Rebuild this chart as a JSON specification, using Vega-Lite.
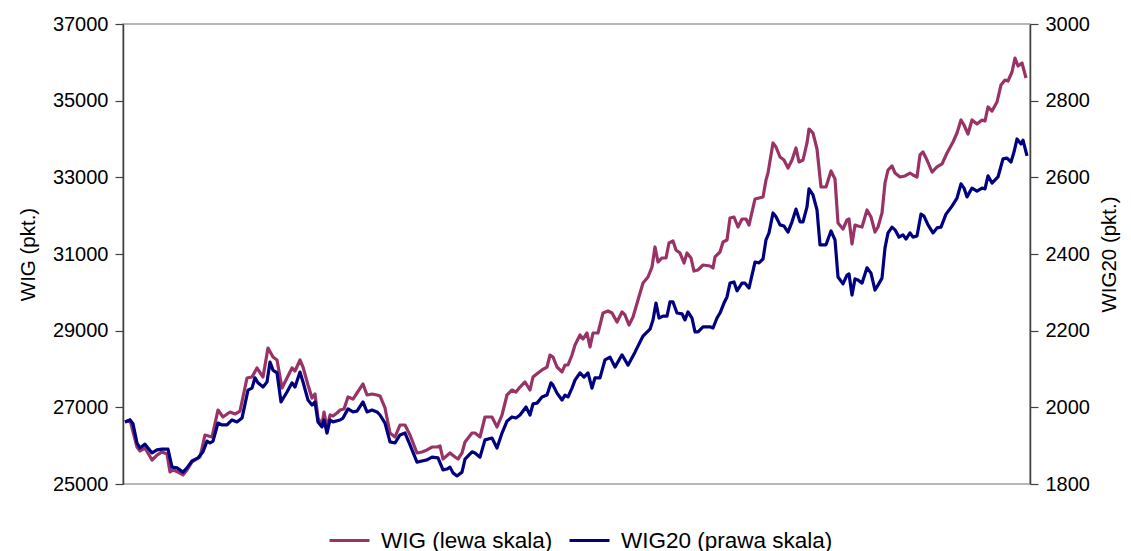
{
  "$schema": "https://vega.github.io/schema/vega-lite/v6.json",
  "width": 907,
  "height": 460,
  "autosize": {"type": "none"},
  "padding": {"left": 123, "top": 24, "right": 101, "bottom": 67},
  "background": "white",
  "config": {
    "view": {"stroke": "#a0a0a0", "strokeWidth": 1.5},
    "font": "Liberation Sans",
    "axis": {
      "labelFont": "Liberation Sans", "titleFont": "Liberation Sans",
      "labelFontSize": 20, "titleFontSize": 20.5, "titleFontWeight": "normal",
      "labelColor": "#000000", "titleColor": "#000000",
      "domainColor": "#404040", "tickColor": "#404040", "domainWidth": 1.5, "tickWidth": 1.2,
      "grid": false, "tickSize": 8, "labelPadding": 7
    },
    "legend": {"labelFont": "Liberation Sans", "labelFontSize": 22.5, "labelColor": "#000000", "labelLimit": 0}
  },
  "datasets": {
    "indeksy": [
      {"s":"WIG","t":2,"v":26617},{"s":"WIG","t":7,"v":26670},{"s":"WIG","t":14,"v":25965},{"s":"WIG","t":17,"v":25861},{"s":"WIG","t":22,"v":25939},{"s":"WIG","t":29,"v":25626},{"s":"WIG","t":34,"v":25756},{"s":"WIG","t":39,"v":25835},{"s":"WIG","t":44,"v":25783},{"s":"WIG","t":47,"v":25313},{"s":"WIG","t":50,"v":25365},{"s":"WIG","t":55,"v":25313},{"s":"WIG","t":60,"v":25235},{"s":"WIG","t":64,"v":25365},{"s":"WIG","t":69,"v":25574},{"s":"WIG","t":77,"v":25704},{"s":"WIG","t":82,"v":26278},{"s":"WIG","t":89,"v":26226},{"s":"WIG","t":95,"v":26930},{"s":"WIG","t":100,"v":26748},{"s":"WIG","t":107,"v":26878},{"s":"WIG","t":112,"v":26826},{"s":"WIG","t":117,"v":26904},{"s":"WIG","t":124,"v":27765},{"s":"WIG","t":129,"v":27791},{"s":"WIG","t":134,"v":28026},{"s":"WIG","t":140,"v":27791},{"s":"WIG","t":145,"v":28548},{"s":"WIG","t":150,"v":28313},{"s":"WIG","t":154,"v":28235},{"s":"WIG","t":159,"v":27504},{"s":"WIG","t":164,"v":27765},{"s":"WIG","t":169,"v":28026},{"s":"WIG","t":172,"v":27948},{"s":"WIG","t":177,"v":28235},{"s":"WIG","t":180,"v":28052},{"s":"WIG","t":185,"v":27583},{"s":"WIG","t":189,"v":27243},{"s":"WIG","t":192,"v":27348},{"s":"WIG","t":195,"v":26722},{"s":"WIG","t":199,"v":26539},{"s":"WIG","t":201,"v":26878},{"s":"WIG","t":204,"v":26461},{"s":"WIG","t":207,"v":26800},{"s":"WIG","t":210,"v":26774},{"s":"WIG","t":214,"v":26852},{"s":"WIG","t":217,"v":26930},{"s":"WIG","t":221,"v":26956},{"s":"WIG","t":225,"v":27270},{"s":"WIG","t":230,"v":27217},{"s":"WIG","t":234,"v":27374},{"s":"WIG","t":240,"v":27609},{"s":"WIG","t":244,"v":27322},{"s":"WIG","t":249,"v":27348},{"s":"WIG","t":254,"v":27322},{"s":"WIG","t":257,"v":27296},{"s":"WIG","t":262,"v":26983},{"s":"WIG","t":267,"v":26330},{"s":"WIG","t":272,"v":26226},{"s":"WIG","t":277,"v":26539},{"s":"WIG","t":282,"v":26539},{"s":"WIG","t":287,"v":26278},{"s":"WIG","t":294,"v":25809},{"s":"WIG","t":299,"v":25835},{"s":"WIG","t":304,"v":25887},{"s":"WIG","t":309,"v":25965},{"s":"WIG","t":314,"v":25965},{"s":"WIG","t":317,"v":25991},{"s":"WIG","t":320,"v":25652},{"s":"WIG","t":327,"v":25809},{"s":"WIG","t":332,"v":25704},{"s":"WIG","t":335,"v":25652},{"s":"WIG","t":339,"v":25809},{"s":"WIG","t":342,"v":26096},{"s":"WIG","t":349,"v":26330},{"s":"WIG","t":352,"v":26330},{"s":"WIG","t":357,"v":26226},{"s":"WIG","t":362,"v":26748},{"s":"WIG","t":369,"v":26748},{"s":"WIG","t":374,"v":26487},{"s":"WIG","t":379,"v":26800},{"s":"WIG","t":384,"v":27322},{"s":"WIG","t":389,"v":27452},{"s":"WIG","t":393,"v":27400},{"s":"WIG","t":397,"v":27530},{"s":"WIG","t":402,"v":27661},{"s":"WIG","t":407,"v":27452},{"s":"WIG","t":410,"v":27791},{"s":"WIG","t":415,"v":27896},{"s":"WIG","t":419,"v":27974},{"s":"WIG","t":424,"v":28052},{"s":"WIG","t":427,"v":28365},{"s":"WIG","t":430,"v":28313},{"s":"WIG","t":434,"v":28052},{"s":"WIG","t":439,"v":27922},{"s":"WIG","t":442,"v":28104},{"s":"WIG","t":445,"v":28104},{"s":"WIG","t":449,"v":28365},{"s":"WIG","t":452,"v":28626},{"s":"WIG","t":457,"v":28887},{"s":"WIG","t":460,"v":28783},{"s":"WIG","t":464,"v":28939},{"s":"WIG","t":467,"v":28574},{"s":"WIG","t":470,"v":28939},{"s":"WIG","t":475,"v":28939},{"s":"WIG","t":480,"v":29461},{"s":"WIG","t":485,"v":29513},{"s":"WIG","t":489,"v":29461},{"s":"WIG","t":494,"v":29226},{"s":"WIG","t":499,"v":29487},{"s":"WIG","t":502,"v":29409},{"s":"WIG","t":506,"v":29148},{"s":"WIG","t":510,"v":29356},{"s":"WIG","t":515,"v":29800},{"s":"WIG","t":520,"v":30243},{"s":"WIG","t":525,"v":30400},{"s":"WIG","t":529,"v":30661},{"s":"WIG","t":532,"v":31183},{"s":"WIG","t":535,"v":30791},{"s":"WIG","t":539,"v":30896},{"s":"WIG","t":543,"v":30896},{"s":"WIG","t":546,"v":31287},{"s":"WIG","t":550,"v":31339},{"s":"WIG","t":553,"v":31104},{"s":"WIG","t":557,"v":31026},{"s":"WIG","t":561,"v":30765},{"s":"WIG","t":564,"v":31026},{"s":"WIG","t":568,"v":30896},{"s":"WIG","t":571,"v":30556},{"s":"WIG","t":575,"v":30583},{"s":"WIG","t":580,"v":30713},{"s":"WIG","t":587,"v":30687},{"s":"WIG","t":590,"v":30635},{"s":"WIG","t":592,"v":30922},{"s":"WIG","t":597,"v":31052},{"s":"WIG","t":600,"v":31313},{"s":"WIG","t":604,"v":31365},{"s":"WIG","t":607,"v":31939},{"s":"WIG","t":611,"v":31965},{"s":"WIG","t":615,"v":31704},{"s":"WIG","t":619,"v":31913},{"s":"WIG","t":623,"v":31913},{"s":"WIG","t":626,"v":31756},{"s":"WIG","t":632,"v":32435},{"s":"WIG","t":636,"v":32461},{"s":"WIG","t":640,"v":32487},{"s":"WIG","t":643,"v":32930},{"s":"WIG","t":645,"v":33113},{"s":"WIG","t":650,"v":33896},{"s":"WIG","t":653,"v":33791},{"s":"WIG","t":657,"v":33530},{"s":"WIG","t":661,"v":33452},{"s":"WIG","t":665,"v":33243},{"s":"WIG","t":669,"v":33452},{"s":"WIG","t":673,"v":33765},{"s":"WIG","t":676,"v":33400},{"s":"WIG","t":680,"v":33452},{"s":"WIG","t":684,"v":33896},{"s":"WIG","t":686,"v":34261},{"s":"WIG","t":690,"v":34156},{"s":"WIG","t":694,"v":33739},{"s":"WIG","t":698,"v":32748},{"s":"WIG","t":703,"v":32748},{"s":"WIG","t":708,"v":33165},{"s":"WIG","t":712,"v":32956},{"s":"WIG","t":715,"v":31809},{"s":"WIG","t":720,"v":31652},{"s":"WIG","t":724,"v":31887},{"s":"WIG","t":726,"v":31913},{"s":"WIG","t":729,"v":31261},{"s":"WIG","t":732,"v":31756},{"s":"WIG","t":735,"v":31730},{"s":"WIG","t":739,"v":31704},{"s":"WIG","t":744,"v":32148},{"s":"WIG","t":748,"v":31965},{"s":"WIG","t":752,"v":31574},{"s":"WIG","t":755,"v":31704},{"s":"WIG","t":759,"v":32070},{"s":"WIG","t":762,"v":32852},{"s":"WIG","t":765,"v":33191},{"s":"WIG","t":769,"v":33296},{"s":"WIG","t":772,"v":33113},{"s":"WIG","t":777,"v":33009},{"s":"WIG","t":782,"v":33035},{"s":"WIG","t":787,"v":33113},{"s":"WIG","t":790,"v":33061},{"s":"WIG","t":794,"v":33009},{"s":"WIG","t":797,"v":33583},{"s":"WIG","t":800,"v":33661},{"s":"WIG","t":804,"v":33452},{"s":"WIG","t":809,"v":33139},{"s":"WIG","t":814,"v":33270},{"s":"WIG","t":819,"v":33348},{"s":"WIG","t":824,"v":33635},{"s":"WIG","t":830,"v":33922},{"s":"WIG","t":834,"v":34156},{"s":"WIG","t":838,"v":34496},{"s":"WIG","t":841,"v":34365},{"s":"WIG","t":845,"v":34130},{"s":"WIG","t":849,"v":34496},{"s":"WIG","t":854,"v":34391},{"s":"WIG","t":859,"v":34496},{"s":"WIG","t":862,"v":34470},{"s":"WIG","t":865,"v":34835},{"s":"WIG","t":869,"v":34730},{"s":"WIG","t":874,"v":34965},{"s":"WIG","t":878,"v":35409},{"s":"WIG","t":882,"v":35539},{"s":"WIG","t":885,"v":35513},{"s":"WIG","t":889,"v":35748},{"s":"WIG","t":892,"v":36113},{"s":"WIG","t":895,"v":35904},{"s":"WIG","t":899,"v":35983},{"s":"WIG","t":903,"v":35591},
      {"s":"WIG20","t":2,"v":1962},{"s":"WIG20","t":7,"v":1967},{"s":"WIG20","t":10,"v":1957},{"s":"WIG20","t":14,"v":1907},{"s":"WIG20","t":17,"v":1894},{"s":"WIG20","t":22,"v":1904},{"s":"WIG20","t":29,"v":1881},{"s":"WIG20","t":34,"v":1889},{"s":"WIG20","t":39,"v":1891},{"s":"WIG20","t":45,"v":1891},{"s":"WIG20","t":49,"v":1844},{"s":"WIG20","t":54,"v":1842},{"s":"WIG20","t":60,"v":1831},{"s":"WIG20","t":64,"v":1842},{"s":"WIG20","t":69,"v":1860},{"s":"WIG20","t":75,"v":1868},{"s":"WIG20","t":80,"v":1884},{"s":"WIG20","t":84,"v":1912},{"s":"WIG20","t":87,"v":1907},{"s":"WIG20","t":90,"v":1912},{"s":"WIG20","t":95,"v":1959},{"s":"WIG20","t":99,"v":1954},{"s":"WIG20","t":104,"v":1954},{"s":"WIG20","t":109,"v":1967},{"s":"WIG20","t":114,"v":1962},{"s":"WIG20","t":119,"v":1972},{"s":"WIG20","t":125,"v":2045},{"s":"WIG20","t":129,"v":2050},{"s":"WIG20","t":132,"v":2077},{"s":"WIG20","t":135,"v":2064},{"s":"WIG20","t":140,"v":2053},{"s":"WIG20","t":144,"v":2066},{"s":"WIG20","t":147,"v":2118},{"s":"WIG20","t":150,"v":2097},{"s":"WIG20","t":154,"v":2090},{"s":"WIG20","t":158,"v":2014},{"s":"WIG20","t":164,"v":2040},{"s":"WIG20","t":169,"v":2064},{"s":"WIG20","t":172,"v":2053},{"s":"WIG20","t":177,"v":2092},{"s":"WIG20","t":180,"v":2066},{"s":"WIG20","t":185,"v":2019},{"s":"WIG20","t":189,"v":2006},{"s":"WIG20","t":192,"v":2014},{"s":"WIG20","t":195,"v":1962},{"s":"WIG20","t":199,"v":1949},{"s":"WIG20","t":201,"v":1967},{"s":"WIG20","t":204,"v":1933},{"s":"WIG20","t":207,"v":1967},{"s":"WIG20","t":210,"v":1962},{"s":"WIG20","t":217,"v":1967},{"s":"WIG20","t":220,"v":1972},{"s":"WIG20","t":225,"v":1996},{"s":"WIG20","t":230,"v":1988},{"s":"WIG20","t":234,"v":1990},{"s":"WIG20","t":240,"v":2014},{"s":"WIG20","t":244,"v":1988},{"s":"WIG20","t":249,"v":1993},{"s":"WIG20","t":254,"v":1988},{"s":"WIG20","t":257,"v":1980},{"s":"WIG20","t":262,"v":1959},{"s":"WIG20","t":267,"v":1910},{"s":"WIG20","t":272,"v":1907},{"s":"WIG20","t":277,"v":1928},{"s":"WIG20","t":282,"v":1933},{"s":"WIG20","t":287,"v":1902},{"s":"WIG20","t":294,"v":1857},{"s":"WIG20","t":299,"v":1860},{"s":"WIG20","t":304,"v":1863},{"s":"WIG20","t":309,"v":1870},{"s":"WIG20","t":315,"v":1868},{"s":"WIG20","t":320,"v":1837},{"s":"WIG20","t":324,"v":1839},{"s":"WIG20","t":327,"v":1844},{"s":"WIG20","t":330,"v":1829},{"s":"WIG20","t":334,"v":1821},{"s":"WIG20","t":339,"v":1831},{"s":"WIG20","t":342,"v":1865},{"s":"WIG20","t":349,"v":1884},{"s":"WIG20","t":352,"v":1881},{"s":"WIG20","t":357,"v":1870},{"s":"WIG20","t":362,"v":1915},{"s":"WIG20","t":369,"v":1920},{"s":"WIG20","t":374,"v":1894},{"s":"WIG20","t":379,"v":1933},{"s":"WIG20","t":384,"v":1964},{"s":"WIG20","t":389,"v":1975},{"s":"WIG20","t":393,"v":1972},{"s":"WIG20","t":397,"v":1980},{"s":"WIG20","t":403,"v":2001},{"s":"WIG20","t":407,"v":1980},{"s":"WIG20","t":410,"v":2009},{"s":"WIG20","t":414,"v":2011},{"s":"WIG20","t":419,"v":2027},{"s":"WIG20","t":424,"v":2032},{"s":"WIG20","t":428,"v":2064},{"s":"WIG20","t":430,"v":2058},{"s":"WIG20","t":434,"v":2037},{"s":"WIG20","t":439,"v":2019},{"s":"WIG20","t":442,"v":2032},{"s":"WIG20","t":445,"v":2027},{"s":"WIG20","t":449,"v":2050},{"s":"WIG20","t":452,"v":2071},{"s":"WIG20","t":457,"v":2090},{"s":"WIG20","t":461,"v":2079},{"s":"WIG20","t":465,"v":2090},{"s":"WIG20","t":469,"v":2050},{"s":"WIG20","t":472,"v":2077},{"s":"WIG20","t":477,"v":2077},{"s":"WIG20","t":482,"v":2124},{"s":"WIG20","t":487,"v":2131},{"s":"WIG20","t":492,"v":2105},{"s":"WIG20","t":499,"v":2137},{"s":"WIG20","t":505,"v":2110},{"s":"WIG20","t":512,"v":2144},{"s":"WIG20","t":520,"v":2186},{"s":"WIG20","t":527,"v":2204},{"s":"WIG20","t":530,"v":2228},{"s":"WIG20","t":533,"v":2272},{"s":"WIG20","t":536,"v":2233},{"s":"WIG20","t":540,"v":2238},{"s":"WIG20","t":544,"v":2238},{"s":"WIG20","t":547,"v":2275},{"s":"WIG20","t":550,"v":2275},{"s":"WIG20","t":554,"v":2246},{"s":"WIG20","t":559,"v":2244},{"s":"WIG20","t":562,"v":2228},{"s":"WIG20","t":565,"v":2249},{"s":"WIG20","t":569,"v":2233},{"s":"WIG20","t":572,"v":2197},{"s":"WIG20","t":575,"v":2197},{"s":"WIG20","t":580,"v":2210},{"s":"WIG20","t":587,"v":2210},{"s":"WIG20","t":590,"v":2207},{"s":"WIG20","t":594,"v":2233},{"s":"WIG20","t":597,"v":2246},{"s":"WIG20","t":601,"v":2272},{"s":"WIG20","t":604,"v":2288},{"s":"WIG20","t":607,"v":2324},{"s":"WIG20","t":611,"v":2327},{"s":"WIG20","t":614,"v":2304},{"s":"WIG20","t":619,"v":2324},{"s":"WIG20","t":622,"v":2324},{"s":"WIG20","t":626,"v":2311},{"s":"WIG20","t":632,"v":2379},{"s":"WIG20","t":636,"v":2377},{"s":"WIG20","t":640,"v":2387},{"s":"WIG20","t":643,"v":2437},{"s":"WIG20","t":646,"v":2455},{"s":"WIG20","t":650,"v":2507},{"s":"WIG20","t":653,"v":2497},{"s":"WIG20","t":657,"v":2476},{"s":"WIG20","t":661,"v":2473},{"s":"WIG20","t":665,"v":2457},{"s":"WIG20","t":669,"v":2484},{"s":"WIG20","t":673,"v":2517},{"s":"WIG20","t":677,"v":2484},{"s":"WIG20","t":680,"v":2484},{"s":"WIG20","t":684,"v":2523},{"s":"WIG20","t":686,"v":2570},{"s":"WIG20","t":690,"v":2554},{"s":"WIG20","t":694,"v":2515},{"s":"WIG20","t":697,"v":2424},{"s":"WIG20","t":703,"v":2424},{"s":"WIG20","t":708,"v":2460},{"s":"WIG20","t":712,"v":2437},{"s":"WIG20","t":715,"v":2340},{"s":"WIG20","t":720,"v":2322},{"s":"WIG20","t":724,"v":2345},{"s":"WIG20","t":726,"v":2348},{"s":"WIG20","t":729,"v":2293},{"s":"WIG20","t":732,"v":2335},{"s":"WIG20","t":735,"v":2332},{"s":"WIG20","t":739,"v":2324},{"s":"WIG20","t":744,"v":2364},{"s":"WIG20","t":748,"v":2350},{"s":"WIG20","t":752,"v":2306},{"s":"WIG20","t":755,"v":2319},{"s":"WIG20","t":759,"v":2337},{"s":"WIG20","t":762,"v":2416},{"s":"WIG20","t":765,"v":2455},{"s":"WIG20","t":769,"v":2470},{"s":"WIG20","t":772,"v":2463},{"s":"WIG20","t":776,"v":2444},{"s":"WIG20","t":780,"v":2450},{"s":"WIG20","t":783,"v":2439},{"s":"WIG20","t":787,"v":2455},{"s":"WIG20","t":790,"v":2444},{"s":"WIG20","t":794,"v":2447},{"s":"WIG20","t":798,"v":2504},{"s":"WIG20","t":801,"v":2499},{"s":"WIG20","t":805,"v":2476},{"s":"WIG20","t":810,"v":2455},{"s":"WIG20","t":814,"v":2468},{"s":"WIG20","t":818,"v":2470},{"s":"WIG20","t":823,"v":2504},{"s":"WIG20","t":829,"v":2525},{"s":"WIG20","t":834,"v":2546},{"s":"WIG20","t":838,"v":2583},{"s":"WIG20","t":841,"v":2572},{"s":"WIG20","t":844,"v":2549},{"s":"WIG20","t":849,"v":2572},{"s":"WIG20","t":854,"v":2564},{"s":"WIG20","t":859,"v":2572},{"s":"WIG20","t":862,"v":2570},{"s":"WIG20","t":865,"v":2604},{"s":"WIG20","t":869,"v":2585},{"s":"WIG20","t":875,"v":2601},{"s":"WIG20","t":880,"v":2648},{"s":"WIG20","t":884,"v":2650},{"s":"WIG20","t":888,"v":2640},{"s":"WIG20","t":891,"v":2666},{"s":"WIG20","t":894,"v":2700},{"s":"WIG20","t":898,"v":2687},{"s":"WIG20","t":900,"v":2697},{"s":"WIG20","t":904,"v":2656}
    ]
  },
  "data": {"name": "indeksy"},
  "encoding": {
    "x": {"field": "t", "type": "quantitative", "scale": {"domain": [0, 907], "nice": false, "zero": false}, "axis": null}
  },
  "layer": [
    {
      "transform": [{"filter": "datum.s == 'WIG'"}],
      "mark": {"type": "line", "strokeWidth": 3.2, "strokeJoin": "round"},
      "encoding": {
        "y": {"field": "v", "type": "quantitative",
          "scale": {"domain": [25000, 37000], "zero": false, "nice": false},
          "axis": {"orient": "left", "values": [25000, 27000, 29000, 31000, 33000, 35000, 37000], "format": "d", "title": "WIG (pkt.)", "titlePadding": 14}},
        "color": {"field": "s", "type": "nominal",
          "scale": {"domain": ["WIG", "WIG20"], "range": ["#993366", "#000080"]},
          "legend": {"orient": "none", "legendX": 205, "legendY": 495, "direction": "horizontal", "title": null,
            "symbolType": "stroke", "symbolSize": 1600, "symbolStrokeWidth": 3, "labelOffset": 10, "columnPadding": 10, "labelLimit": 0,
            "labelExpr": "datum.label == 'WIG' ? 'WIG (lewa skala)' : 'WIG20 (prawa skala)'"}}
      }
    },
    {
      "transform": [{"filter": "datum.s == 'WIG20'"}],
      "mark": {"type": "line", "strokeWidth": 3.2, "strokeJoin": "round"},
      "encoding": {
        "y": {"field": "v", "type": "quantitative",
          "scale": {"domain": [1800, 3000], "zero": false, "nice": false},
          "axis": {"orient": "right", "values": [1800, 2000, 2200, 2400, 2600, 2800, 3000], "format": "d", "title": "WIG20 (pkt.)", "titleAngle": 270, "titlePadding": 30}},
        "color": {"field": "s", "type": "nominal",
          "scale": {"domain": ["WIG", "WIG20"], "range": ["#993366", "#000080"]},
          "legend": {"orient": "none", "legendX": 205, "legendY": 495, "direction": "horizontal", "title": null,
            "symbolType": "stroke", "symbolSize": 1600, "symbolStrokeWidth": 3, "labelOffset": 10, "columnPadding": 10, "labelLimit": 0,
            "labelExpr": "datum.label == 'WIG' ? 'WIG (lewa skala)' : 'WIG20 (prawa skala)'"}}
      }
    }
  ],
  "resolve": {"scale": {"y": "independent"}}
}
